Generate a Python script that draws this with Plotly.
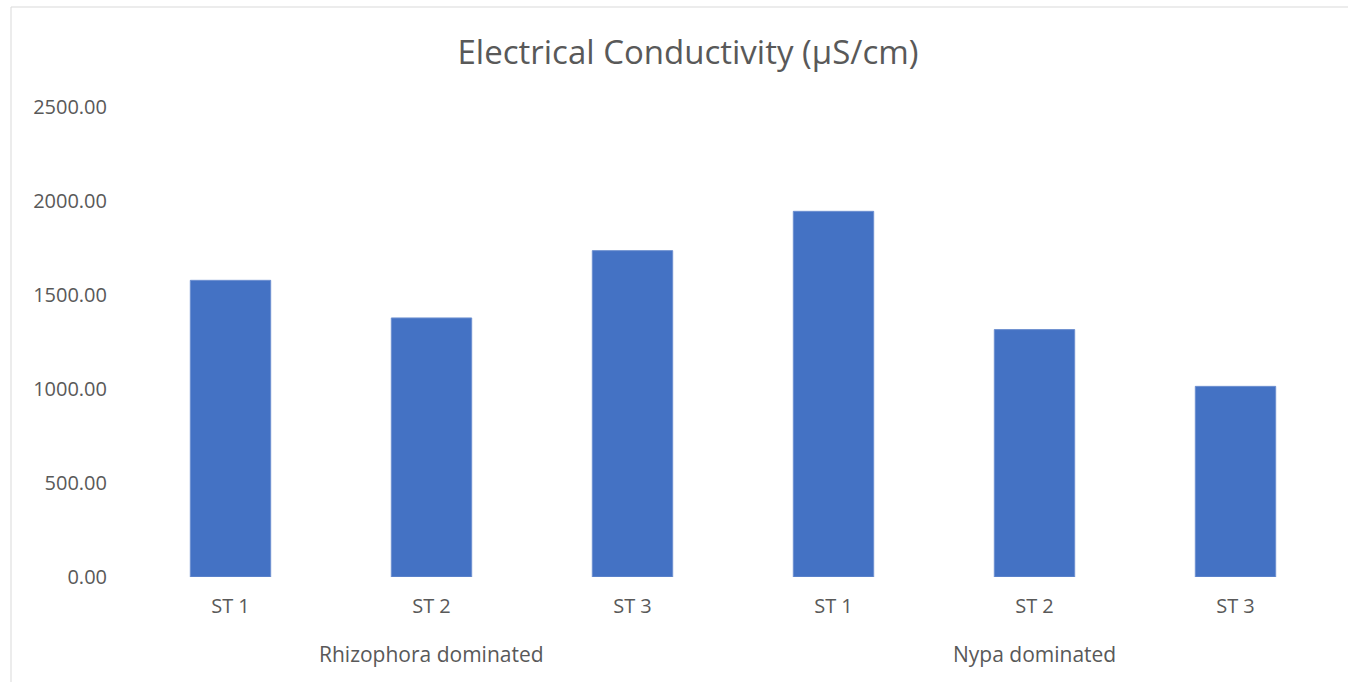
import plotly.graph_objects as go

# Electrical conductivity per station, grouped by dominant mangrove type
groups = ["Rhizophora dominated", "Nypa dominated"]
stations = ["ST 1", "ST 2", "ST 3", "ST 1", "ST 2", "ST 3"]
ec_values = [1578, 1378, 1736, 1945, 1316, 1014]
y_ticks = [0, 500, 1000, 1500, 2000, 2500]

positions = list(range(len(stations)))
text_color = "#595959"
font_family = "Open Sans, Noto Sans, sans-serif"

fig = go.Figure(
    go.Bar(
        x=positions,
        y=ec_values,
        marker=dict(color="#4472C4", line=dict(color="#6E90D0", width=1)),
        width=0.4,
    )
)

# group labels centred under each set of three stations
annotations = []
for gi, gname in enumerate(groups):
    centre = sum(positions[gi * 3:gi * 3 + 3]) / 3
    annotations.append(dict(
        x=centre, y=0, xref="x", yref="paper",
        text=gname, showarrow=False, yshift=-93,
        font=dict(size=21, color=text_color, family=font_family),
    ))

fig.update_layout(
    width=1348, height=682,
    margin=dict(l=130, r=12, t=107, b=105),
    paper_bgcolor="white", plot_bgcolor="white",
    title=dict(
        text="Electrical Conductivity (µS/cm)",
        x=688 / 1348, xref="container", xanchor="center",
        y=1 - 52 / 682, yref="container", yanchor="middle",
        font=dict(size=33, color=text_color, family=font_family),
    ),
    xaxis=dict(
        range=[-0.5, 5.5], tickvals=positions, ticktext=stations,
        showgrid=False, zeroline=False, showline=False, ticks="",
        tickfont=dict(size=20, color=text_color, family=font_family),
        ticklabelstandoff=15, fixedrange=True,
    ),
    yaxis=dict(
        range=[0, 2500], tickvals=y_ticks, tickformat=".2f",
        showgrid=False, zeroline=False, showline=False, ticks="",
        tickfont=dict(size=20, color=text_color, family=font_family),
        ticklabelstandoff=22, fixedrange=True,
    ),
    annotations=annotations,
    shapes=[dict(
        type="rect", xref="paper", yref="paper",
        x0=(11 - 130) / 1206, x1=(1360 - 130) / 1206,
        y0=(577 - 700) / 470, y1=(577 - 7) / 470,
        line=dict(color="#D9D9D9", width=1), fillcolor="rgba(0,0,0,0)",
    )],
    showlegend=False,
)

fig.write_html("out.html")
